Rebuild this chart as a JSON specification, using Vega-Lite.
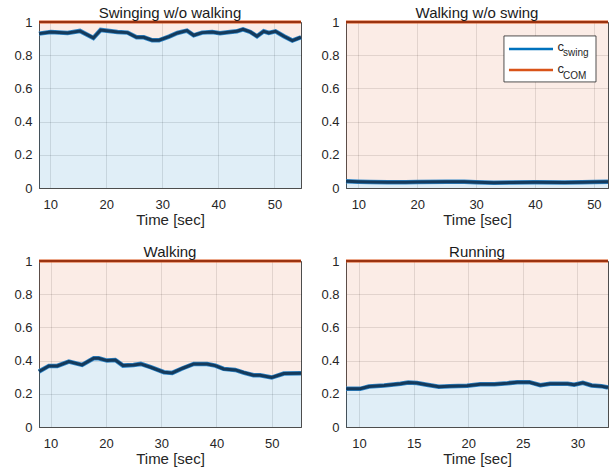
{
  "$schema": "https://vega.github.io/schema/vega-lite/v6.json",
  "padding": {"left": 10, "top": 5, "right": 5, "bottom": 5},
  "background": "white",
  "datasets": {
    "coord": [
      {"panel": "A", "t": 8.0, "c_swing": 0.930, "c_com": 1},
      {"panel": "A", "t": 10.1, "c_swing": 0.940, "c_com": 1},
      {"panel": "A", "t": 13.1, "c_swing": 0.934, "c_com": 1},
      {"panel": "A", "t": 15.3, "c_swing": 0.946, "c_com": 1},
      {"panel": "A", "t": 17.7, "c_swing": 0.904, "c_com": 1},
      {"panel": "A", "t": 19.0, "c_swing": 0.952, "c_com": 1},
      {"panel": "A", "t": 22.0, "c_swing": 0.940, "c_com": 1},
      {"panel": "A", "t": 23.8, "c_swing": 0.936, "c_com": 1},
      {"panel": "A", "t": 25.4, "c_swing": 0.908, "c_com": 1},
      {"panel": "A", "t": 26.7, "c_swing": 0.908, "c_com": 1},
      {"panel": "A", "t": 28.2, "c_swing": 0.890, "c_com": 1},
      {"panel": "A", "t": 29.4, "c_swing": 0.890, "c_com": 1},
      {"panel": "A", "t": 31.2, "c_swing": 0.912, "c_com": 1},
      {"panel": "A", "t": 32.7, "c_swing": 0.934, "c_com": 1},
      {"panel": "A", "t": 34.4, "c_swing": 0.948, "c_com": 1},
      {"panel": "A", "t": 35.6, "c_swing": 0.920, "c_com": 1},
      {"panel": "A", "t": 37.1, "c_swing": 0.936, "c_com": 1},
      {"panel": "A", "t": 38.9, "c_swing": 0.940, "c_com": 1},
      {"panel": "A", "t": 40.3, "c_swing": 0.932, "c_com": 1},
      {"panel": "A", "t": 42.1, "c_swing": 0.940, "c_com": 1},
      {"panel": "A", "t": 43.3, "c_swing": 0.944, "c_com": 1},
      {"panel": "A", "t": 44.4, "c_swing": 0.956, "c_com": 1},
      {"panel": "A", "t": 45.7, "c_swing": 0.940, "c_com": 1},
      {"panel": "A", "t": 46.9, "c_swing": 0.914, "c_com": 1},
      {"panel": "A", "t": 48.1, "c_swing": 0.944, "c_com": 1},
      {"panel": "A", "t": 49.0, "c_swing": 0.934, "c_com": 1},
      {"panel": "A", "t": 50.2, "c_swing": 0.944, "c_com": 1},
      {"panel": "A", "t": 51.7, "c_swing": 0.914, "c_com": 1},
      {"panel": "A", "t": 53.2, "c_swing": 0.888, "c_com": 1},
      {"panel": "A", "t": 54.75, "c_swing": 0.908, "c_com": 1},

      {"panel": "B", "t": 7.9, "c_swing": 0.040, "c_com": 1},
      {"panel": "B", "t": 10, "c_swing": 0.038, "c_com": 1},
      {"panel": "B", "t": 12, "c_swing": 0.036, "c_com": 1},
      {"panel": "B", "t": 15, "c_swing": 0.034, "c_com": 1},
      {"panel": "B", "t": 18, "c_swing": 0.035, "c_com": 1},
      {"panel": "B", "t": 20, "c_swing": 0.036, "c_com": 1},
      {"panel": "B", "t": 25, "c_swing": 0.038, "c_com": 1},
      {"panel": "B", "t": 28, "c_swing": 0.037, "c_com": 1},
      {"panel": "B", "t": 30, "c_swing": 0.035, "c_com": 1},
      {"panel": "B", "t": 33, "c_swing": 0.032, "c_com": 1},
      {"panel": "B", "t": 36, "c_swing": 0.033, "c_com": 1},
      {"panel": "B", "t": 40, "c_swing": 0.034, "c_com": 1},
      {"panel": "B", "t": 45, "c_swing": 0.033, "c_com": 1},
      {"panel": "B", "t": 48, "c_swing": 0.034, "c_com": 1},
      {"panel": "B", "t": 50, "c_swing": 0.036, "c_com": 1},
      {"panel": "B", "t": 52.4, "c_swing": 0.038, "c_com": 1},

      {"panel": "C", "t": 7.9, "c_swing": 0.334, "c_com": 1},
      {"panel": "C", "t": 9.7, "c_swing": 0.368, "c_com": 1},
      {"panel": "C", "t": 11.2, "c_swing": 0.368, "c_com": 1},
      {"panel": "C", "t": 13.3, "c_swing": 0.394, "c_com": 1},
      {"panel": "C", "t": 15.7, "c_swing": 0.374, "c_com": 1},
      {"panel": "C", "t": 17.8, "c_swing": 0.414, "c_com": 1},
      {"panel": "C", "t": 18.7, "c_swing": 0.414, "c_com": 1},
      {"panel": "C", "t": 20.2, "c_swing": 0.400, "c_com": 1},
      {"panel": "C", "t": 21.7, "c_swing": 0.404, "c_com": 1},
      {"panel": "C", "t": 23.1, "c_swing": 0.370, "c_com": 1},
      {"panel": "C", "t": 25.0, "c_swing": 0.374, "c_com": 1},
      {"panel": "C", "t": 26.3, "c_swing": 0.380, "c_com": 1},
      {"panel": "C", "t": 28.1, "c_swing": 0.360, "c_com": 1},
      {"panel": "C", "t": 30.5, "c_swing": 0.330, "c_com": 1},
      {"panel": "C", "t": 32.0, "c_swing": 0.326, "c_com": 1},
      {"panel": "C", "t": 33.9, "c_swing": 0.354, "c_com": 1},
      {"panel": "C", "t": 35.9, "c_swing": 0.380, "c_com": 1},
      {"panel": "C", "t": 38.3, "c_swing": 0.380, "c_com": 1},
      {"panel": "C", "t": 39.8, "c_swing": 0.370, "c_com": 1},
      {"panel": "C", "t": 41.3, "c_swing": 0.350, "c_com": 1},
      {"panel": "C", "t": 43.4, "c_swing": 0.344, "c_com": 1},
      {"panel": "C", "t": 44.9, "c_swing": 0.328, "c_com": 1},
      {"panel": "C", "t": 46.7, "c_swing": 0.312, "c_com": 1},
      {"panel": "C", "t": 47.9, "c_swing": 0.312, "c_com": 1},
      {"panel": "C", "t": 50.0, "c_swing": 0.298, "c_com": 1},
      {"panel": "C", "t": 52.2, "c_swing": 0.322, "c_com": 1},
      {"panel": "C", "t": 55.3, "c_swing": 0.324, "c_com": 1},

      {"panel": "D", "t": 8.8, "c_swing": 0.230, "c_com": 1},
      {"panel": "D", "t": 10.1, "c_swing": 0.230, "c_com": 1},
      {"panel": "D", "t": 10.9, "c_swing": 0.244, "c_com": 1},
      {"panel": "D", "t": 12.3, "c_swing": 0.250, "c_com": 1},
      {"panel": "D", "t": 13.8, "c_swing": 0.260, "c_com": 1},
      {"panel": "D", "t": 14.5, "c_swing": 0.268, "c_com": 1},
      {"panel": "D", "t": 15.3, "c_swing": 0.265, "c_com": 1},
      {"panel": "D", "t": 16.2, "c_swing": 0.255, "c_com": 1},
      {"panel": "D", "t": 17.3, "c_swing": 0.242, "c_com": 1},
      {"panel": "D", "t": 18.3, "c_swing": 0.246, "c_com": 1},
      {"panel": "D", "t": 19.9, "c_swing": 0.248, "c_com": 1},
      {"panel": "D", "t": 21.1, "c_swing": 0.258, "c_com": 1},
      {"panel": "D", "t": 22.4, "c_swing": 0.258, "c_com": 1},
      {"panel": "D", "t": 23.6, "c_swing": 0.264, "c_com": 1},
      {"panel": "D", "t": 24.5, "c_swing": 0.270, "c_com": 1},
      {"panel": "D", "t": 25.6, "c_swing": 0.270, "c_com": 1},
      {"panel": "D", "t": 26.6, "c_swing": 0.252, "c_com": 1},
      {"panel": "D", "t": 27.5, "c_swing": 0.260, "c_com": 1},
      {"panel": "D", "t": 29.1, "c_swing": 0.260, "c_com": 1},
      {"panel": "D", "t": 29.7, "c_swing": 0.255, "c_com": 1},
      {"panel": "D", "t": 30.5, "c_swing": 0.266, "c_com": 1},
      {"panel": "D", "t": 31.3, "c_swing": 0.250, "c_com": 1},
      {"panel": "D", "t": 32.2, "c_swing": 0.246, "c_com": 1},
      {"panel": "D", "t": 32.8, "c_swing": 0.238, "c_com": 1}
    ]
  },
  "config": {
    "font": "Liberation Sans",
    "view": {"stroke": "#4d4d4d", "strokeWidth": 1},
    "axis": {
      "labelFont": "Liberation Sans",
      "labelFontSize": 13,
      "labelColor": "#262626",
      "titleFont": "Liberation Sans",
      "titleFontSize": 15,
      "titleFontWeight": "normal",
      "titleColor": "#262626",
      "gridColor": "#000000",
      "gridOpacity": 0.14,
      "gridWidth": 0.8,
      "ticks": false,
      "domainColor": "#4d4d4d",
      "labelFlush": false,
      "labelOverlap": false
    },
    "axisX": {"labelPadding": 10, "titlePadding": 1},
    "axisY": {"labelPadding": 7, "minExtent": 28, "maxExtent": 28, "tickCount": 5, "format": "~g"},
    "title": {"font": "Liberation Sans", "fontSize": 15, "fontWeight": "normal", "color": "#1a1a1a", "offset": -5, "frame": "group"}
  },
  "spacing": 16,
  "vconcat": [
    {
      "spacing": 6,
      "hconcat": [
        {
          "title": "Swinging w/o walking",
          "width": 262, "height": 166,
          "data": {"name": "coord"},
          "transform": [{"filter": "datum.panel === 'A'"}],
          "encoding": {
            "x": {"field": "t", "type": "quantitative", "title": "Time [sec]",
                  "scale": {"domain": [8.0, 54.75], "nice": false, "zero": false},
                  "axis": {"values": [10, 20, 30, 40, 50]}}
          },
          "layer": [
            {"mark": {"type": "area", "color": "#D95319", "fillOpacity": 0.11},
             "encoding": {"y": {"field": "c_swing", "type": "quantitative", "title": null, "scale": {"domain": [0, 1], "nice": false}}, "y2": {"field": "c_com"}}},
            {"mark": {"type": "area", "color": "#0072BD", "fillOpacity": 0.12},
             "encoding": {"y": {"field": "c_swing", "type": "quantitative", "title": null}}},
            {"mark": {"type": "line", "color": "#D95319", "strokeWidth": 3},
             "encoding": {"y": {"field": "c_com", "type": "quantitative", "title": null}}},
            {"mark": {"type": "line", "color": "#86290e", "strokeWidth": 1.4},
             "encoding": {"y": {"field": "c_com", "type": "quantitative", "title": null}}},
            {"mark": {"type": "line", "color": "#2f86c8", "strokeWidth": 4.5},
             "encoding": {"y": {"field": "c_swing", "type": "quantitative", "title": null}}},
            {"mark": {"type": "line", "color": "#143a5c", "strokeWidth": 3},
             "encoding": {"y": {"field": "c_swing", "type": "quantitative", "title": null}}}
          ]
        },
        {
          "title": "Walking w/o swing",
          "width": 262, "height": 166,
          "encoding": {
            "x": {"type": "quantitative", "title": "Time [sec]",
                  "scale": {"domain": [7.9, 52.4], "nice": false, "zero": false},
                  "axis": {"values": [10, 20, 30, 40, 50]}}
          },
          "layer": [
            {
              "data": {"name": "coord"},
              "transform": [{"filter": "datum.panel === 'B'"}],
              "encoding": {"x": {"field": "t", "type": "quantitative", "title": "Time [sec]"}},
              "layer": [
                {"mark": {"type": "area", "color": "#D95319", "fillOpacity": 0.11},
                 "encoding": {"y": {"field": "c_swing", "type": "quantitative", "title": null, "scale": {"domain": [0, 1], "nice": false}}, "y2": {"field": "c_com"}}},
                {"mark": {"type": "area", "color": "#0072BD", "fillOpacity": 0.12},
                 "encoding": {"y": {"field": "c_swing", "type": "quantitative", "title": null}}},
                {"mark": {"type": "line", "color": "#D95319", "strokeWidth": 3},
                 "encoding": {"y": {"field": "c_com", "type": "quantitative", "title": null}}},
                {"mark": {"type": "line", "color": "#86290e", "strokeWidth": 1.4},
                 "encoding": {"y": {"field": "c_com", "type": "quantitative", "title": null}}},
                {"mark": {"type": "line", "color": "#2f86c8", "strokeWidth": 4.5},
                 "encoding": {"y": {"field": "c_swing", "type": "quantitative", "title": null}}},
                {"mark": {"type": "line", "color": "#143a5c", "strokeWidth": 3},
                 "encoding": {"y": {"field": "c_swing", "type": "quantitative", "title": null}}}
              ]
            },
            {"data": {"values": [{}]},
             "mark": {"type": "rect", "fill": "white", "stroke": "#262626", "strokeWidth": 0.8},
             "encoding": {"x": {"datum": 34.73, "type": "quantitative", "title": "Time [sec]"}, "x2": {"datum": 50.36},
                          "y": {"datum": 0.916, "type": "quantitative", "title": null}, "y2": {"datum": 0.639}}},
            {"data": {"values": [{}]},
             "mark": {"type": "rule", "color": "#0072BD", "strokeWidth": 2.5},
             "encoding": {"x": {"datum": 35.58, "type": "quantitative", "title": "Time [sec]"}, "x2": {"datum": 43.06},
                          "y": {"datum": 0.837, "type": "quantitative", "title": null}}},
            {"data": {"values": [{}]},
             "mark": {"type": "rule", "color": "#D95319", "strokeWidth": 2.5},
             "encoding": {"x": {"datum": 35.58, "type": "quantitative", "title": "Time [sec]"}, "x2": {"datum": 43.06},
                          "y": {"datum": 0.711, "type": "quantitative", "title": null}}},
            {"data": {"values": [{}]},
             "mark": {"type": "text", "text": "c", "fontSize": 13, "align": "left", "baseline": "alphabetic", "color": "#262626"},
             "encoding": {"x": {"datum": 43.82, "type": "quantitative", "title": "Time [sec]"}, "y": {"datum": 0.827, "type": "quantitative", "title": null}}},
            {"data": {"values": [{}]},
             "mark": {"type": "text", "text": "swing", "fontSize": 10, "align": "left", "baseline": "alphabetic", "color": "#262626"},
             "encoding": {"x": {"datum": 44.75, "type": "quantitative", "title": "Time [sec]"}, "y": {"datum": 0.795, "type": "quantitative", "title": null}}},
            {"data": {"values": [{}]},
             "mark": {"type": "text", "text": "c", "fontSize": 13, "align": "left", "baseline": "alphabetic", "color": "#262626"},
             "encoding": {"x": {"datum": 43.82, "type": "quantitative", "title": "Time [sec]"}, "y": {"datum": 0.695, "type": "quantitative", "title": null}}},
            {"data": {"values": [{}]},
             "mark": {"type": "text", "text": "COM", "fontSize": 10, "align": "left", "baseline": "alphabetic", "color": "#262626"},
             "encoding": {"x": {"datum": 44.75, "type": "quantitative", "title": "Time [sec]"}, "y": {"datum": 0.655, "type": "quantitative", "title": null}}}
          ]
        }
      ]
    },
    {
      "spacing": 6,
      "hconcat": [
        {
          "title": "Walking",
          "width": 262, "height": 166,
          "data": {"name": "coord"},
          "transform": [{"filter": "datum.panel === 'C'"}],
          "encoding": {
            "x": {"field": "t", "type": "quantitative", "title": "Time [sec]",
                  "scale": {"domain": [7.9, 55.3], "nice": false, "zero": false},
                  "axis": {"values": [10, 20, 30, 40, 50]}}
          },
          "layer": [
            {"mark": {"type": "area", "color": "#D95319", "fillOpacity": 0.11},
             "encoding": {"y": {"field": "c_swing", "type": "quantitative", "title": null, "scale": {"domain": [0, 1], "nice": false}}, "y2": {"field": "c_com"}}},
            {"mark": {"type": "area", "color": "#0072BD", "fillOpacity": 0.12},
             "encoding": {"y": {"field": "c_swing", "type": "quantitative", "title": null}}},
            {"mark": {"type": "line", "color": "#D95319", "strokeWidth": 3},
             "encoding": {"y": {"field": "c_com", "type": "quantitative", "title": null}}},
            {"mark": {"type": "line", "color": "#86290e", "strokeWidth": 1.4},
             "encoding": {"y": {"field": "c_com", "type": "quantitative", "title": null}}},
            {"mark": {"type": "line", "color": "#2f86c8", "strokeWidth": 4.5},
             "encoding": {"y": {"field": "c_swing", "type": "quantitative", "title": null}}},
            {"mark": {"type": "line", "color": "#143a5c", "strokeWidth": 3},
             "encoding": {"y": {"field": "c_swing", "type": "quantitative", "title": null}}}
          ]
        },
        {
          "title": "Running",
          "width": 262, "height": 166,
          "data": {"name": "coord"},
          "transform": [{"filter": "datum.panel === 'D'"}],
          "encoding": {
            "x": {"field": "t", "type": "quantitative", "title": "Time [sec]",
                  "scale": {"domain": [8.8, 32.8], "nice": false, "zero": false},
                  "axis": {"values": [10, 15, 20, 25, 30]}}
          },
          "layer": [
            {"mark": {"type": "area", "color": "#D95319", "fillOpacity": 0.11},
             "encoding": {"y": {"field": "c_swing", "type": "quantitative", "title": null, "scale": {"domain": [0, 1], "nice": false}}, "y2": {"field": "c_com"}}},
            {"mark": {"type": "area", "color": "#0072BD", "fillOpacity": 0.12},
             "encoding": {"y": {"field": "c_swing", "type": "quantitative", "title": null}}},
            {"mark": {"type": "line", "color": "#D95319", "strokeWidth": 3},
             "encoding": {"y": {"field": "c_com", "type": "quantitative", "title": null}}},
            {"mark": {"type": "line", "color": "#86290e", "strokeWidth": 1.4},
             "encoding": {"y": {"field": "c_com", "type": "quantitative", "title": null}}},
            {"mark": {"type": "line", "color": "#2f86c8", "strokeWidth": 4.5},
             "encoding": {"y": {"field": "c_swing", "type": "quantitative", "title": null}}},
            {"mark": {"type": "line", "color": "#143a5c", "strokeWidth": 3},
             "encoding": {"y": {"field": "c_swing", "type": "quantitative", "title": null}}}
          ]
        }
      ]
    }
  ]
}
